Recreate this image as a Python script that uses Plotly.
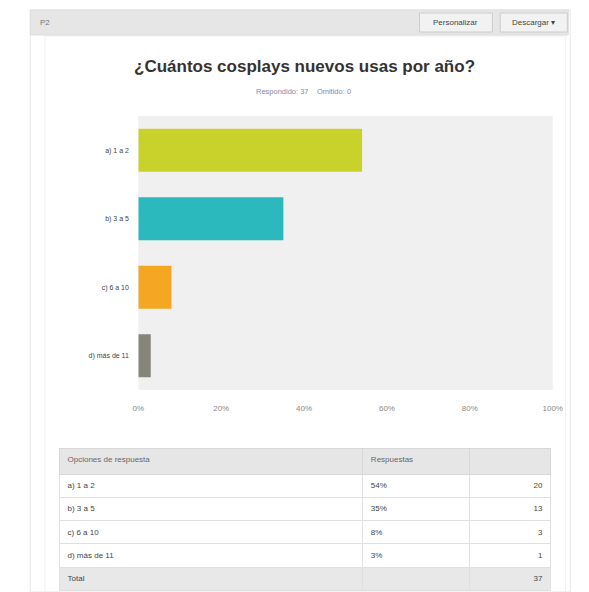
import plotly.graph_objects as go

W, H = 589, 592

title = "¿Cuántos cosplays nuevos usas por año?"
subtitle = "Respondido: 37    Omitido: 0"
categories = ["a) 1 a 2", "b) 3 a 5", "c) 6 a 10", "d) más de 11"]
percents = [54, 35, 8, 3]
counts = [20, 13, 3, 1]
total = 37
bar_colors = ["#c9d22a", "#2bb9bd", "#f5a623", "#85857a"]
tick_vals = [0, 20, 40, 60, 80, 100]
tick_text = ["0%", "20%", "40%", "60%", "80%", "100%"]


def px(x):
    return x / W


def py(y):
    return 1 - y / H


fig = go.Figure()

fig.add_trace(go.Bar(
    x=percents, y=categories, orientation="h",
    marker=dict(color=bar_colors, line=dict(width=0)),
    width=0.63, hoverinfo="skip", showlegend=False,
))

# Table
tab_opts = categories + ["Total"]
tab_pct = [f"{p}%" for p in percents] + [""]
tab_cnt = [str(c) for c in counts] + [str(total)]
row_fill = ["#ffffff"] * len(categories) + ["#e8e8e8"]
fig.add_trace(go.Table(
    domain=dict(x=[px(55), px(560)], y=[py(592), py(448)]),
    columnwidth=[312, 110, 83],
    header=dict(
        values=["Opciones de respuesta", "Respuestas", ""],
        fill_color="#e6e6e6", line_color="#d8d8d8",
        align=["left", "left", "right"], height=26,
        font=dict(family="Arial, Liberation Sans", size=8, color="#666666"),
    ),
    cells=dict(
        values=[tab_opts, tab_pct, tab_cnt],
        fill_color=[row_fill, row_fill, row_fill], line_color="#e0e0e0",
        align=["left", "left", "right"], height=23.3,
        font=dict(family="Arial, Liberation Sans", size=8, color="#444444"),
    ),
))

fig.update_layout(
    width=W, height=H,
    margin=dict(l=0, r=0, t=0, b=0),
    paper_bgcolor="#ffffff", plot_bgcolor="#f0f0f0",
    xaxis=dict(domain=[px(136), px(562)], range=[0, 100], tickvals=tick_vals,
               ticktext=tick_text, showgrid=False, zeroline=False,
               ticks="outside", ticklen=10, tickcolor="rgba(0,0,0,0)",
               tickfont=dict(family="Arial, Liberation Sans", size=8, color="#888888"),
               fixedrange=True),
    yaxis=dict(domain=[py(390), py(116)], autorange="reversed", showgrid=False,
               zeroline=False, ticks="outside", ticklen=7, tickcolor="rgba(0,0,0,0)",
               tickfont=dict(family="Arial, Liberation Sans", size=7, color="#444444"),
               fixedrange=True),
    font=dict(family="Arial, Liberation Sans"),
)

shapes = [
    # outer frame
    dict(type="rect", xref="paper", yref="paper", x0=px(25), x1=px(580), y0=py(592), y1=py(10),
         line=dict(color="#e8e8e8", width=1), fillcolor="rgba(0,0,0,0)", layer="below"),
    # inner panel
    dict(type="rect", xref="paper", yref="paper", x0=px(40), x1=px(575), y0=py(592), y1=py(36),
         line=dict(color="#f0f0f0", width=1), fillcolor="rgba(0,0,0,0)", layer="below"),
    # top bar
    dict(type="rect", xref="paper", yref="paper", x0=px(25), x1=px(578), y0=py(35), y1=py(10),
         line=dict(color="#dddddd", width=1), fillcolor="#e6e6e6", layer="below"),
    # buttons
    dict(type="rect", xref="paper", yref="paper", x0=px(425), x1=px(500), y0=py(32), y1=py(13),
         line=dict(color="#cccccc", width=1), fillcolor="#f2f2f2", layer="below"),
    dict(type="rect", xref="paper", yref="paper", x0=px(508), x1=px(577), y0=py(32), y1=py(13),
         line=dict(color="#cccccc", width=1), fillcolor="#f2f2f2", layer="below"),
]
fig.update_layout(shapes=shapes)

ann = [
    dict(text="P2", x=px(33), y=py(22), xanchor="left", yanchor="middle",
         font=dict(size=8, color="#777777")),
    dict(text="Personalizar", x=px(462), y=py(22.5), xanchor="center", yanchor="middle",
         font=dict(size=8, color="#444444")),
    dict(text="Descargar ▾", x=px(542), y=py(22.5), xanchor="center", yanchor="middle",
         font=dict(size=8, color="#444444")),
    dict(text="<b>" + title + "</b>", x=px(307), y=py(66), xanchor="center", yanchor="middle",
         font=dict(size=17, color="#333333")),
    dict(text=subtitle, x=px(306), y=py(92), xanchor="center", yanchor="middle",
         font=dict(size=7.5, color="#8a87a8")),
]
for a in ann:
    a.update(xref="paper", yref="paper", showarrow=False)
fig.update_layout(annotations=ann)

fig.write_html(
    "out.html",
    config={"displayModeBar": False},
    post_script="document.body.style.margin='0';document.body.style.overflow='hidden';",
)
